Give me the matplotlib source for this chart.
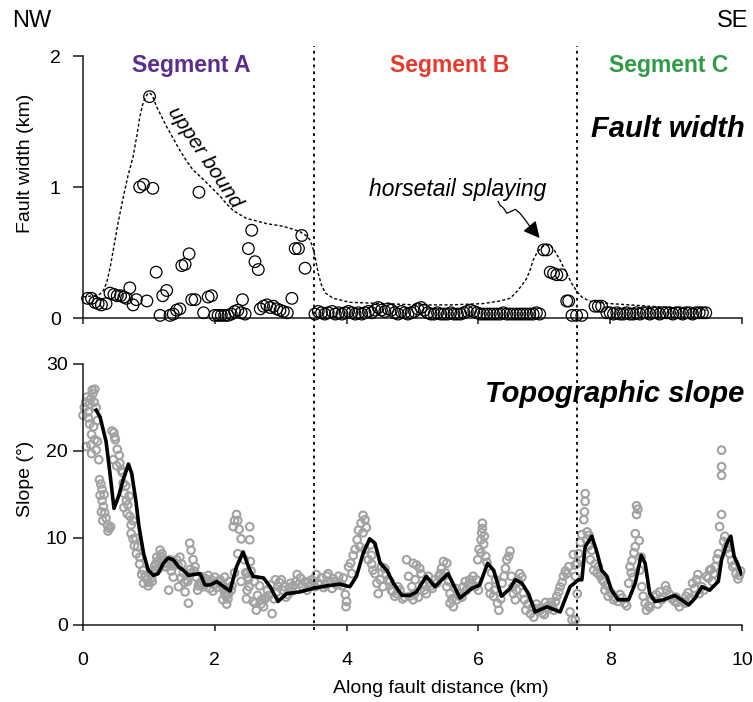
import matplotlib
matplotlib.use("Agg")
import matplotlib.pyplot as plt
import matplotlib.transforms as mtransforms
from matplotlib.lines import Line2D

plt.rcParams['font.family'] = ['Liberation Sans', 'DejaVu Sans']

# ---------------- Data: fault width (top panel) ----------------
fw_a_x = [0.07, 0.13, 0.18, 0.23, 0.28, 0.35, 0.41, 0.47, 0.52, 0.57, 0.62, 0.66, 0.71, 0.76, 0.81,
          0.86, 0.92, 0.97, 1.01, 1.06, 1.11, 1.17, 1.21, 1.27, 1.32, 1.37, 1.42, 1.47, 1.50, 1.55,
          1.61, 1.65, 1.70, 1.76, 1.83, 1.90, 1.95, 2.00, 2.05, 2.10, 2.15, 2.20, 2.25, 2.30, 2.35,
          2.40, 2.42, 2.46, 2.51, 2.56, 2.61, 2.66, 2.69, 2.74, 2.79, 2.84, 2.89, 2.94, 2.99, 3.04,
          3.10, 3.17, 3.22, 3.27, 3.32, 3.37]
fw_a_y = [0.15, 0.15, 0.12, 0.11, 0.10, 0.11, 0.19, 0.18, 0.17, 0.17, 0.16, 0.15, 0.23, 0.10, 0.14,
          1.00, 1.02, 0.13, 1.69, 0.99, 0.35, 0.02, 0.17, 0.21, 0.02, 0.03, 0.06, 0.07, 0.40, 0.41,
          0.49, 0.14, 0.14, 0.96, 0.04, 0.16, 0.17, 0.02, 0.02, 0.02, 0.02, 0.02, 0.03, 0.05, 0.06,
          0.04, 0.14, 0.03, 0.53, 0.67, 0.43, 0.37, 0.07, 0.09, 0.10, 0.08, 0.09, 0.07, 0.06, 0.05,
          0.04, 0.15, 0.53, 0.53, 0.63, 0.38]

fw_b_x = [3.52, 3.57, 3.62, 3.67, 3.72, 3.78, 3.83, 3.88, 3.93, 3.98,
          4.03, 4.08, 4.13, 4.18, 4.23, 4.28, 4.33, 4.38, 4.43, 4.48,
          4.53, 4.58, 4.63, 4.68, 4.73, 4.78, 4.83, 4.88, 4.93, 4.98,
          5.03, 5.08, 5.13, 5.18, 5.23, 5.28, 5.33, 5.38, 5.43, 5.48,
          5.53, 5.58, 5.63, 5.68, 5.73, 5.78, 5.83, 5.88, 5.93, 5.98,
          6.03, 6.08, 6.13, 6.18, 6.23, 6.28, 6.33, 6.38, 6.43, 6.48,
          6.53, 6.58, 6.63, 6.68, 6.73, 6.78, 6.83, 6.88, 6.93]
fw_b_y = [0.03, 0.05, 0.04, 0.03, 0.04, 0.05, 0.03, 0.04, 0.03, 0.04,
          0.05, 0.04, 0.03, 0.04, 0.03, 0.04, 0.05, 0.04, 0.06, 0.08,
          0.06, 0.05, 0.07, 0.06, 0.04, 0.03, 0.05, 0.04, 0.03, 0.04,
          0.05, 0.07, 0.08, 0.06, 0.04, 0.03, 0.03, 0.04, 0.03, 0.03,
          0.03, 0.04, 0.03, 0.03, 0.03, 0.04, 0.05, 0.06, 0.05, 0.04,
          0.03, 0.03, 0.03, 0.03, 0.03, 0.03, 0.03, 0.04, 0.03, 0.03,
          0.03, 0.03, 0.03, 0.03, 0.03, 0.03, 0.03, 0.04, 0.03]

fw_h_x = [6.99, 7.04, 7.09, 7.14, 7.19, 7.26, 7.34, 7.37, 7.42, 7.49, 7.57, 7.77, 7.82, 7.87]
fw_h_y = [0.52, 0.52, 0.35, 0.34, 0.33, 0.33, 0.13, 0.13, 0.02, 0.02, 0.02, 0.09, 0.09, 0.09]

fw_c_x = [7.95, 8.00, 8.05, 8.10, 8.15, 8.20, 8.25, 8.30, 8.35, 8.40,
          8.45, 8.50, 8.55, 8.60, 8.65, 8.70, 8.75, 8.80, 8.85, 8.90,
          8.95, 9.00, 9.05, 9.10, 9.15, 9.20, 9.25, 9.30, 9.35, 9.40, 9.45]
fw_c_y = [0.04, 0.04, 0.03, 0.04, 0.03, 0.03, 0.04, 0.03, 0.03, 0.04,
          0.03, 0.04, 0.04, 0.03, 0.04, 0.04, 0.03, 0.04, 0.04, 0.04,
          0.03, 0.04, 0.04, 0.03, 0.04, 0.04, 0.03, 0.04, 0.04, 0.04, 0.04]

ub_x = [0.00, 0.15, 0.25, 0.31, 0.36, 0.41, 0.46, 0.53, 0.61, 0.68, 0.76, 0.82, 0.86, 0.90, 0.94,
        0.98, 1.01, 1.05, 1.12, 1.20, 1.27, 1.37, 1.47, 1.57, 1.67, 1.78, 1.88, 1.98, 2.08, 2.18,
        2.28, 2.38, 2.48, 2.64, 2.79, 2.92, 3.04, 3.17, 3.29, 3.38, 3.44, 3.48, 3.52, 3.57, 3.62,
        3.68, 3.80, 4.05, 4.56, 5.06, 5.57, 6.07, 6.33, 6.48, 6.58, 6.66, 6.73, 6.78, 6.83, 6.89,
        6.94, 6.99, 7.04, 7.10, 7.16, 7.23, 7.29, 7.36, 7.42, 7.50, 7.57, 7.68, 7.80, 8.00, 8.60,
        9.46]
ub_y = [0.16, 0.17, 0.18, 0.21, 0.27, 0.38, 0.52, 0.72, 0.92, 1.08, 1.23, 1.40, 1.53, 1.62, 1.68,
        1.71, 1.72, 1.70, 1.61, 1.53, 1.46, 1.37, 1.28, 1.20, 1.13, 1.08, 1.03, 0.98, 0.93, 0.87,
        0.82, 0.79, 0.76, 0.74, 0.72, 0.71, 0.70, 0.68, 0.66, 0.63, 0.60, 0.55, 0.47, 0.34, 0.25,
        0.19, 0.15, 0.12, 0.11, 0.10, 0.10, 0.11, 0.13, 0.15, 0.20, 0.25, 0.30, 0.36, 0.44, 0.50,
        0.53, 0.55, 0.56, 0.55, 0.51, 0.45, 0.39, 0.32, 0.26, 0.20, 0.16, 0.13, 0.12, 0.11, 0.09,
        0.06]

wave_x = [6.30, 6.33, 6.38, 6.43, 6.48, 6.56, 6.63, 6.71, 6.78]
wave_y = [0.89, 0.86, 0.84, 0.80, 0.81, 0.83, 0.80, 0.75, 0.70]
arrow_tip = (6.93, 0.61)

# ---------------- Data: topographic slope (bottom panel) ----------------
sl_pts_x = [
    0.00, 0.02, 0.04, 0.06, 0.08, 0.10, 0.12, 0.14, 0.15, 0.17, 0.18, 0.08, 0.10, 0.13, 0.12, 0.13,
    0.18, 0.20, 0.22, 0.24, 0.20, 0.22, 0.05, 0.16,
    0.25, 0.27, 0.29, 0.26, 0.29, 0.31, 0.33, 0.35, 0.37, 0.40, 0.42, 0.30, 0.28, 0.32, 0.38,
    0.44, 0.47, 0.49, 0.52, 0.46, 0.51, 0.56, 0.58, 0.55, 0.48,
    0.60, 0.61, 0.63, 0.66, 0.68, 0.71, 0.73, 0.73, 0.76, 0.78, 0.81, 0.86, 0.65, 0.70, 0.76, 0.80,
    0.83, 0.62, 0.67,
    0.86, 0.91, 0.94, 0.97, 1.02, 1.07, 1.12, 1.17, 1.20, 1.22, 1.25, 0.92, 0.99, 1.05, 0.89, 1.10, 1.15,
    1.27, 1.32, 1.37, 1.42, 1.47, 1.52, 1.57, 1.62, 1.64, 1.67, 1.70, 1.60, 1.72, 1.74, 1.80, 1.85,
    1.90, 1.95, 2.00, 2.05, 1.30, 1.45, 1.55, 1.75, 1.35, 1.50, 1.65, 1.82, 1.92, 1.97,
    2.10, 2.15, 2.18, 2.20, 2.25, 2.28, 2.30, 2.33, 2.35, 2.37, 2.40, 2.35, 2.45, 2.47, 2.50, 2.52,
    2.15, 2.22, 2.40, 2.48, 2.12, 2.30,
    2.53, 2.53, 2.54, 2.49, 2.51, 2.49, 2.58, 2.61, 2.63, 2.71, 2.74, 2.80, 2.87, 2.92, 2.96, 3.01,
    3.06, 3.11, 3.17, 3.25, 3.30, 3.37, 3.45, 3.54, 3.62, 3.72, 3.75, 3.85, 3.95, 3.98, 4.00, 3.99,
    4.03, 4.06, 4.08, 4.13, 4.16, 4.18, 4.22, 4.25, 4.28, 4.25, 4.20, 4.28, 4.33, 4.38, 4.38, 4.43,
    4.46, 4.48, 4.51, 4.53, 4.58, 4.63, 4.68, 4.78, 4.91, 4.94, 4.96, 2.68, 2.78, 2.90, 3.15, 3.40,
    3.50, 3.65, 3.80, 3.90, 4.73, 4.85,
    5.01, 5.06, 5.11, 5.13, 5.01, 5.03, 5.21, 5.26, 5.34, 5.42, 5.44, 5.47, 5.52, 5.47, 5.52, 5.57,
    5.57, 5.62, 5.67, 5.77, 5.87, 5.92, 5.97, 5.99, 6.04, 6.04, 6.05, 6.06, 6.06, 6.09, 6.01, 6.11,
    6.16, 6.18, 6.23, 6.26, 6.29, 6.31, 6.36, 6.41, 6.43, 6.48, 6.50, 6.53, 6.56, 6.58, 6.63, 6.66,
    6.70, 6.72, 6.79, 6.84, 6.94, 7.04, 7.14, 7.19, 7.24, 7.29, 7.34, 7.37, 7.39, 7.42, 7.44, 7.47,
    5.30, 5.16, 5.72, 5.82, 6.20, 6.00, 6.88, 7.00, 7.10,
    7.62, 7.62, 7.61, 7.60, 7.65, 7.68, 7.57, 7.52, 7.50, 7.47, 7.50, 7.47, 7.70, 7.75, 7.80, 7.85,
    7.92, 7.97, 8.05, 8.12, 8.22, 8.28, 8.30, 8.33, 8.38, 8.38, 8.40, 8.40, 8.42, 8.45, 8.48, 8.50,
    8.53, 8.55, 8.63, 8.70, 8.78, 8.86, 8.90, 8.98, 9.05, 9.13, 9.18, 9.25, 9.31, 9.39, 9.46, 9.51,
    9.59, 9.64, 9.66, 9.69, 9.69, 9.69, 9.69, 9.74, 9.79, 9.81, 9.84, 9.86, 9.91, 9.96, 7.55, 7.90,
    8.00, 8.18, 8.35, 8.60, 8.75, 9.00, 9.20, 9.35, 9.55, 9.76, 9.72,
    0.95, 1.00, 1.04, 1.09, 1.13, 1.18, 1.24, 1.29, 1.34, 1.39,
    1.44, 1.49, 1.54, 1.59, 1.63, 1.69, 1.77, 1.83, 1.87, 1.94,
    1.99, 2.03, 2.08, 2.13, 2.17, 2.21, 2.26, 2.55, 2.60, 2.65,
    2.70, 2.76, 2.82, 2.85, 2.94, 2.98, 3.03, 3.08, 3.13, 3.19,
    3.23, 3.28, 3.33, 3.42, 3.47, 3.52, 3.58, 3.68, 3.70, 3.78,
    3.83, 3.88, 3.93, 4.10, 4.30, 4.36, 4.40, 4.55, 4.60, 4.66,
    4.70, 4.76, 4.81, 4.88, 4.99, 5.04, 5.09, 5.18, 5.24, 5.28,
    5.37, 5.40, 5.50, 5.55, 5.60, 5.65, 5.70, 5.75, 5.80, 5.85,
    5.90, 5.95, 6.08, 6.13, 6.24, 6.34, 6.39, 6.46, 6.52, 6.61,
    6.68, 6.75, 6.82, 6.90, 6.97, 7.02, 7.07, 7.12, 7.17, 7.22,
    7.27, 7.32, 7.64, 7.67, 7.72, 7.77, 7.82, 7.88, 7.94, 8.02,
    8.08, 8.15, 8.25, 8.32, 8.36, 8.44, 8.47, 8.58, 8.66, 8.72,
    8.80, 8.84, 8.94, 9.02, 9.10, 9.15, 9.22, 9.28, 9.33, 9.42,
    9.49, 9.53, 9.57, 9.62, 9.80, 9.89, 9.94, 9.98]
sl_pts_y = [
    24.1, 25.0, 25.6, 26.2, 24.5, 25.4, 26.0, 27.0, 26.6, 25.6, 27.1, 23.8, 23.1, 21.9, 20.7, 19.7,
    21.3, 20.1, 21.1, 19.0, 25.0, 23.5, 20.5, 22.8,
    16.7, 16.2, 15.6, 14.9, 14.3, 13.6, 12.9, 12.3, 11.5, 11.1, 11.3, 12.0, 13.0, 15.0, 10.8,
    22.3, 22.1, 21.3, 20.2, 19.0, 18.3, 18.6, 17.8, 19.5, 21.6,
    17.5, 16.3, 15.1, 14.3, 13.8, 12.5, 11.5, 10.5, 9.9, 9.1, 8.2, 7.8, 16.0, 14.8, 12.0, 10.0,
    9.0, 13.5, 12.8,
    7.0, 6.3, 5.5, 5.2, 5.9, 6.3, 7.8, 8.6, 8.2, 7.5, 6.7, 4.8, 4.5, 5.0, 5.8, 7.0, 6.5,
    6.7, 7.5, 5.5, 7.5, 7.8, 6.0, 5.2, 9.4, 8.6, 7.5, 6.7, 2.5, 5.5, 4.0, 4.6, 5.0,
    5.7, 5.2, 5.5, 5.0, 4.0, 4.4, 3.8, 4.5, 6.8, 7.0, 6.0, 5.5, 4.2, 3.9,
    4.6, 3.6, 2.4, 3.0, 4.0, 11.3, 12.0, 12.7, 12.0, 11.0, 9.9, 8.2, 7.5, 6.0, 5.5, 4.4,
    5.5, 5.0, 5.0, 3.0, 2.9, 6.0,
    11.3, 9.8, 7.3, 5.9, 5.2, 4.0, 2.7, 2.5, 1.7, 2.9, 2.1, 4.0, 1.3, 5.2, 4.4, 5.2,
    4.4, 3.5, 3.9, 5.8, 5.4, 5.0, 4.6, 5.8, 5.4, 5.9, 5.0, 4.6, 5.4, 3.5, 2.7, 2.1,
    6.7, 7.1, 5.9, 8.7, 9.8, 10.9, 11.7, 12.6, 12.1, 10.6, 9.0, 8.7, 7.5, 7.0, 8.0, 5.9,
    4.8, 3.6, 5.2, 6.7, 6.5, 5.2, 4.0, 4.4, 7.5, 5.6, 3.3, 4.5, 3.2, 3.0, 4.8, 4.0,
    5.0, 4.3, 5.3, 4.8, 3.3, 3.0,
    7.1, 6.9, 6.5, 5.9, 2.9, 3.6, 3.6, 4.8, 5.2, 5.9, 6.5, 7.3, 7.1, 5.6, 4.4, 3.6,
    2.5, 2.1, 2.9, 4.4, 5.2, 5.6, 5.2, 7.5, 8.3, 9.8, 10.6, 11.1, 11.7, 10.2, 8.7, 7.9,
    4.4, 3.6, 3.3, 5.2, 2.5, 1.7, 4.8, 6.5, 7.5, 8.5, 5.6, 3.6, 2.9, 4.0, 5.9, 5.5,
    2.9, 1.7, 1.3, 0.9, 1.7, 2.1, 1.7, 3.3, 4.4, 5.6, 5.9, 6.7, 1.5, 0.6, 8.1, 6.9,
    4.2, 4.6, 3.3, 4.0, 6.0, 4.0, 2.4, 1.2, 2.6,
    15.1, 14.2, 13.0, 12.1, 10.7, 10.3, 10.4, 8.2, 7.1, 5.6, 3.6, 0.6, 7.5, 6.3, 6.0, 5.6,
    4.0, 3.3, 2.9, 2.7, 2.5, 4.8, 6.7, 7.4, 9.0, 10.5, 12.7, 13.7, 13.3, 6.3, 4.4, 3.3,
    2.5, 1.7, 2.9, 3.5, 2.9, 4.0, 3.5, 2.7, 2.1, 2.5, 3.7, 4.8, 5.2, 4.4, 5.6, 6.3,
    6.7, 8.2, 11.3, 12.7, 17.2, 18.2, 20.1, 10.2, 9.4, 8.2, 7.4, 6.7, 5.9, 5.7, 9.5, 5.0,
    3.8, 3.1, 5.5, 2.0, 3.8, 3.2, 2.9, 3.6, 5.0, 8.8, 9.6,
    5.6, 4.9, 5.4, 6.8, 7.3, 7.9, 7.2, 7.0, 6.2, 7.1,
    6.9, 5.4, 4.9, 5.0, 6.4, 6.2, 4.8, 4.4, 5.3, 4.9,
    4.7, 4.3, 5.2, 4.2, 3.3, 3.6, 4.5, 6.2, 5.0, 3.4,
    2.4, 3.0, 3.4, 4.6, 3.8, 4.9, 4.0, 3.2, 4.3, 4.5,
    5.0, 4.7, 4.4, 4.9, 5.2, 4.4, 4.8, 4.6, 5.6, 4.2,
    5.0, 5.6, 4.5, 8.0, 11.2, 9.2, 6.3, 4.4, 5.8, 5.0,
    3.8, 3.6, 4.0, 3.2, 4.4, 5.2, 3.2, 4.0, 5.6, 4.5,
    4.8, 5.6, 6.0, 5.0, 3.0, 4.2, 3.6, 3.2, 5.0, 4.6,
    4.8, 4.4, 9.3, 7.2, 4.0, 3.0, 5.6, 7.9, 4.4, 5.0,
    3.7, 2.4, 2.0, 1.9, 1.4, 2.6, 1.9, 2.2, 2.7, 3.8,
    4.9, 6.2, 9.8, 9.1, 8.6, 7.0, 6.7, 5.2, 4.6, 3.6,
    3.1, 3.5, 2.2, 6.0, 8.3, 9.7, 7.8, 2.2, 3.3, 2.4,
    3.2, 4.5, 3.0, 2.6, 2.7, 3.3, 3.1, 4.2, 5.8, 4.0,
    5.4, 6.4, 5.9, 7.6, 8.9, 6.9, 5.3, 6.2]

sl_line_x = [0.20, 0.26, 0.35, 0.41, 0.47, 0.54, 0.61, 0.69, 0.74, 0.80, 0.85, 0.92, 0.99, 1.07,
             1.14, 1.22, 1.29, 1.37, 1.45, 1.52, 1.60, 1.67, 1.78, 1.85, 1.93, 2.03, 2.10, 2.23,
             2.33, 2.43, 2.51, 2.58, 2.74, 2.84, 2.96, 3.09, 3.29, 3.49, 3.70, 3.90, 4.05, 4.15,
             4.25, 4.35, 4.43, 4.51, 4.61, 4.71, 4.84, 4.96, 5.06, 5.21, 5.34, 5.54, 5.72, 5.90,
             6.02, 6.14, 6.23, 6.35, 6.48, 6.56, 6.66, 6.76, 6.86, 7.04, 7.24, 7.39, 7.52, 7.57,
             7.62, 7.72, 7.79, 7.87, 7.95, 8.02, 8.12, 8.28, 8.38, 8.47, 8.53, 8.60, 8.68, 8.81,
             8.98, 9.08, 9.19, 9.29, 9.39, 9.51, 9.64, 9.69, 9.77, 9.83, 9.88, 9.93, 9.99]
sl_line_y = [24.7, 23.9, 21.1, 17.4, 13.4, 14.8, 16.7, 18.5, 17.4, 14.4, 11.3, 8.2, 6.3, 5.7,
             5.9, 7.1, 7.7, 7.5, 6.7, 6.3, 5.7, 5.8, 5.9, 4.6, 4.6, 5.0, 4.6, 3.9,
             6.7, 8.4, 6.7, 5.6, 5.4, 4.4, 2.7, 3.6, 3.8, 4.2, 4.5, 4.7, 4.4, 5.6,
             8.2, 9.9, 9.4, 7.1, 6.3, 4.8, 3.4, 3.4, 3.8, 5.6, 4.4, 5.9, 3.1, 4.2,
             4.6, 7.1, 6.3, 3.3, 4.2, 5.2, 4.8, 3.6, 1.5, 2.1, 1.5, 4.4, 5.2, 5.2,
             9.0, 10.2, 8.6, 6.3, 5.6, 4.0, 2.9, 2.9, 4.8, 8.0, 7.1, 3.6, 2.7, 2.9,
             3.4, 2.9, 2.3, 3.1, 4.4, 4.0, 5.0, 7.5, 9.4, 10.2, 7.9, 7.1, 5.9]

segment_bounds = [3.5, 7.5]
segment_names = ['Segment A', 'Segment B', 'Segment C']
segment_label_x = [1.65, 5.57, 8.88]
segment_colors = ['#5a2d8e', '#e63a2e', '#2f9a48']

# ---------------- Figure ----------------
fig = plt.figure(figsize=(7.53, 7.02), dpi=100)
ax1 = fig.add_axes([0.1102, 0.5470, 0.8752, 0.3732])
ax2 = fig.add_axes([0.1102, 0.1097, 0.8752, 0.3718])

for ax in (ax1, ax2):
    for s in ('top', 'right'):
        ax.spines[s].set_visible(False)
    for s in ('left', 'bottom'):
        ax.spines[s].set_linewidth(1.1)
        ax.spines[s].set_color('#1a1a1a')
    ax.set_xlim(0, 10)
    ax.set_xticks([0, 2, 4, 6, 8, 10])
    ax.tick_params(axis='x', direction='out', length=4.5, width=1.1, color='#1a1a1a')
    ax.tick_params(axis='y', direction='out', length=7, width=1.1, color='#1a1a1a',
                   labelsize=14)
    ax.set_facecolor('none')

# Top panel
ax1.set_ylim(0, 2)
ax1.set_yticks([0, 1, 2])
ax1.tick_params(axis='y', pad=9)
ax1.tick_params(axis='x', labelbottom=False)
ax1.plot(ub_x, ub_y, color='black', lw=1.0, ls=(0, (2.2, 1.6)), zorder=2, clip_on=False)
for xs, ys in ((fw_a_x, fw_a_y), (fw_b_x, fw_b_y), (fw_h_x, fw_h_y), (fw_c_x, fw_c_y)):
    ax1.scatter(xs, ys, s=70, facecolors='none', edgecolors='black', linewidths=0.9,
                zorder=3, clip_on=False)
ax1.set_ylabel('Fault width (km)', fontsize=14)
ax1.yaxis.set_label_coords(-0.075, 0.59)

for name, lx, col in zip(segment_names, segment_label_x, segment_colors):
    ax1.text(lx, 1.93, name, color=col, fontsize=16.5, fontweight='bold',
             ha='center', va='center')
ax1.text(10.04, 1.44, 'Fault width', fontsize=21, fontweight='bold', fontstyle='italic',
         ha='right', va='center')
ax1.text(1.84, 1.23, 'upper bound', fontsize=15, fontstyle='italic', rotation=-56,
         ha='center', va='center', rotation_mode='anchor')
ax1.text(5.69, 0.98, 'horsetail splaying', fontsize=16.5, fontstyle='italic',
         ha='center', va='center')
ax1.plot(wave_x, wave_y, color='black', lw=0.9, clip_on=False)
ax1.annotate('', xy=arrow_tip, xytext=(wave_x[-1], wave_y[-1]),
             arrowprops=dict(arrowstyle='-|>,head_length=1.0,head_width=0.5',
                             fc='black', ec='black', lw=0.9, shrinkA=0, shrinkB=0))

# Bottom panel
ax2.set_ylim(0, 30)
ax2.set_yticks([0, 10, 20, 30])
ax2.tick_params(axis='y', pad=4)
ax2.tick_params(axis='x', labelsize=14, pad=15)
ax2.scatter(sl_pts_x, sl_pts_y, s=30, facecolors='none', edgecolors='#a2a2a2',
            linewidths=1.5, zorder=2, clip_on=False)
ax2.plot(sl_line_x, sl_line_y, color='black', lw=2.6, zorder=3, solid_joinstyle='round')
ax2.set_ylabel('Slope (°)', fontsize=14)
ax2.yaxis.set_label_coords(-0.075, 0.56)
ax2.set_xlabel('Along fault distance (km)', fontsize=14)
ax2.xaxis.set_label_coords(0.543, -0.21)
ax2.text(10.04, 26.6, 'Topographic slope', fontsize=21, fontweight='bold', fontstyle='italic',
         ha='right', va='center')

# Segment boundaries across both panels
trans = mtransforms.blended_transform_factory(ax1.transData, fig.transFigure)
for b in segment_bounds:
    fig.add_artist(Line2D([b, b], [0.103, 0.935], transform=trans, color='black',
                          lw=1.3, ls=(0, (1.6, 2.2))))

fig.text(12 / 753, 1 - 21 / 702, 'NW', fontsize=17, ha='left', va='center')
fig.text(748 / 753, 1 - 21 / 702, 'SE', fontsize=17, ha='right', va='center')

fig.savefig('out.png', dpi=100)
